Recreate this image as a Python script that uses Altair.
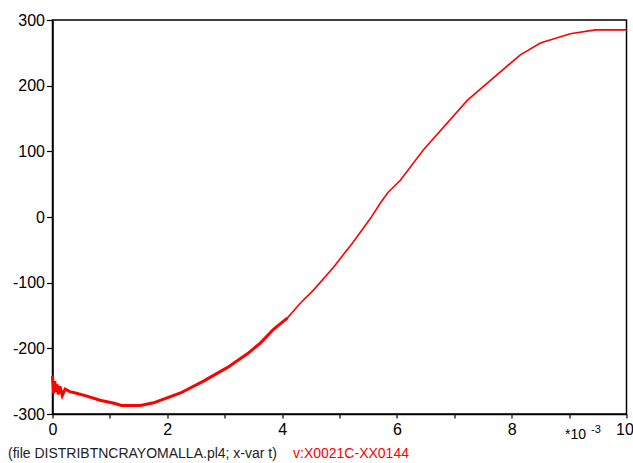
import altair as alt
import pandas as pd

# time in ms (axis shows *10^-3 s), voltage
t_ms = [0.0, 0.02, 0.04, 0.06, 0.08, 0.10, 0.13, 0.17, 0.22, 0.30, 0.40, 0.57, 0.83,
        1.09, 1.20, 1.53, 1.76, 2.23, 2.63, 3.05, 3.40, 3.62, 3.85, 4.09, 4.32, 4.55,
        4.90, 5.24, 5.54, 5.71, 5.84, 6.06, 6.46, 7.23, 8.15, 8.50, 9.02, 9.46, 10.0]
volts = [-242, -268, -250, -266, -255, -270, -258, -272, -262, -266, -268, -272, -279,
         -284, -287, -287, -283, -268, -250, -229, -208, -192, -171, -154, -131, -111,
         -76, -38, -2, 21, 37, 56, 102, 178, 247, 265, 279, 285, 285]

x_ticks = list(range(0, 11))
y_ticks = [-300, -200, -100, 0, 100, 200, 300]

file_note = "(file DISTRIBTNCRAYOMALLA.pl4; x-var t)"
var_note = "v:X0021C-XX0144"

df = pd.DataFrame({"t": t_ms, "v": volts})

W, H = 574, 394
FONT = "Liberation Sans"

x_enc = alt.X("t:Q",
              scale=alt.Scale(domain=[0, 10], nice=False, zero=False),
              axis=alt.Axis(values=x_ticks, title=None, grid=False,
                            labelExpr="datum.value % 2 == 0 ? toString(datum.value) : ''",
                            labelFlush=False, labelOverlap=False,
                            labelOffset={"condition": {"test": "datum.value == 10", "value": -2},
                                         "value": 0},
                            tickSize=4, labelPadding=3, labelFontSize=16))
y_enc = alt.Y("v:Q",
              scale=alt.Scale(domain=[-300, 300], nice=False, zero=False),
              axis=alt.Axis(values=y_ticks, title=None, grid=False,
                            labelExpr="toString(datum.value)",
                            labelFlush=False, labelOverlap=False,
                            tickSize=6, labelPadding=2, labelFontSize=16))

base = alt.Chart(df)
line = base.mark_line(color="#ff0000", strokeWidth=1.6).encode(x=x_enc, y=y_enc)
thick = base.transform_filter("datum.t <= 4.1").mark_line(
    color="#ff0000", strokeWidth=3).encode(x="t:Q", y="v:Q")

txt_df = pd.DataFrame({"a": [0]})
note1 = alt.Chart(txt_df).mark_text(align="left", baseline="alphabetic", fontSize=14,
                                     font=FONT, color="#222222").encode(
    x=alt.value(-44.5), y=alt.value(438), text=alt.value(file_note))
note2 = alt.Chart(txt_df).mark_text(align="left", baseline="alphabetic", fontSize=14,
                                     font=FONT, color="#ff0000").encode(
    x=alt.value(240.5), y=alt.value(438), text=alt.value(var_note))
mult = alt.Chart(txt_df).mark_text(align="left", baseline="alphabetic", fontSize=14,
                                    font=FONT, color="black").encode(
    x=alt.value(512.5), y=alt.value(419), text=alt.value("*10"))
expo = alt.Chart(txt_df).mark_text(align="left", baseline="alphabetic", fontSize=11,
                                    font=FONT, color="black").encode(
    x=alt.value(538.5), y=alt.value(413), text=alt.value("-3"))

chart = alt.layer(line, thick, note1, note2, mult, expo).properties(
    width=W, height=H,
    padding={"left": 52.5, "top": 20, "right": 6.5, "bottom": 49},
    autosize=alt.AutoSizeParams(type="none"),
    background="white",
).configure_view(stroke="black", strokeWidth=1.5).configure_axis(
    domainColor="black", domainWidth=1.5, tickColor="black", tickWidth=1.2,
    labelColor="black", labelFont=FONT,
)

chart.save("out.html", embed_options={"renderer": "svg", "actions": False})
